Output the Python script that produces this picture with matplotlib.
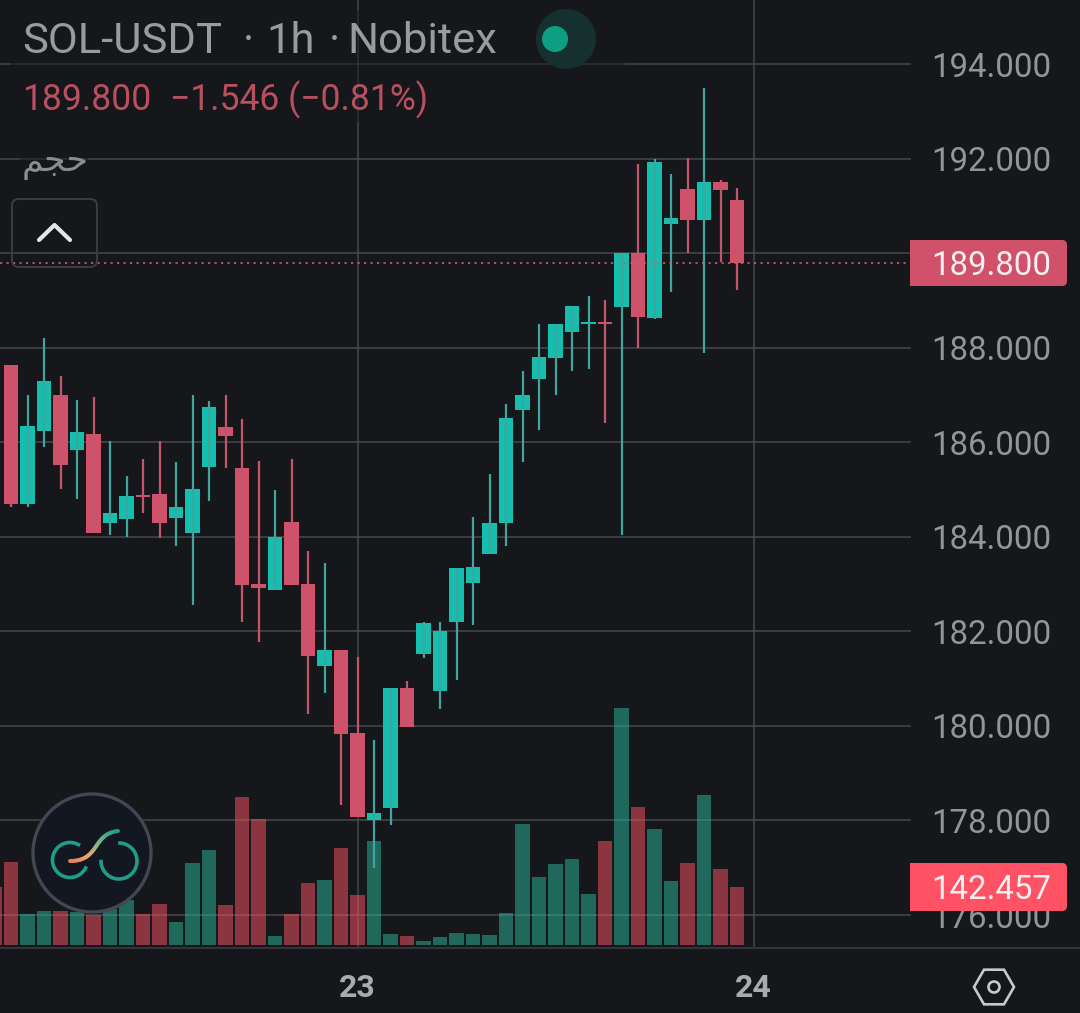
import numpy as np
import matplotlib
matplotlib.use("Agg")
import matplotlib.pyplot as plt
from matplotlib.collections import LineCollection
from matplotlib.patches import Circle, FancyBboxPatch, Rectangle, RegularPolygon

plt.rcParams['font.family'] = ['Roboto', 'DejaVu Sans']

# candles, index 21 is the "23" tick and index 45 the "24" tick
opens = [187.63, 184.69, 186.24, 187.00, 185.84, 186.17, 184.29, 184.38, 184.88, 184.91,
         184.40, 184.08, 185.48, 186.32, 185.46, 183.00, 182.88, 184.31, 183.00, 181.27,
         181.61, 179.85, 178.01, 178.26, 180.80, 181.52, 180.74, 182.20, 183.02, 183.64,
         184.29, 186.68, 187.34, 187.78, 188.33, 188.50, 188.54, 188.86, 190.00, 188.63,
         190.62, 191.36, 190.70, 191.50, 191.12]
closes = [184.69, 186.34, 187.30, 185.52, 186.22, 184.08, 184.50, 184.86, 184.85, 184.29,
          184.63, 185.01, 186.75, 186.13, 182.98, 182.92, 184.00, 182.98, 181.48, 181.61,
          179.83, 178.07, 178.16, 180.80, 179.98, 182.18, 182.01, 183.34, 183.36, 184.29,
          186.51, 187.00, 187.80, 188.50, 188.88, 188.54, 188.50, 190.00, 188.65, 191.93,
          190.74, 190.70, 191.50, 191.33, 189.80]
highs = [187.63, 187.00, 188.21, 187.40, 186.89, 186.96, 186.03, 185.29, 185.65, 186.03,
         185.58, 187.00, 186.87, 187.00, 186.49, 185.60, 184.99, 185.65, 183.70, 183.45,
         181.61, 181.46, 179.70, 180.80, 180.95, 182.20, 182.20, 183.34, 184.42, 185.33,
         186.81, 187.51, 188.50, 188.50, 188.88, 189.09, 189.01, 190.00, 191.89, 191.99,
         191.67, 192.01, 193.49, 191.55, 191.38]
lows = [184.62, 184.62, 185.91, 185.01, 184.80, 184.08, 184.04, 184.00, 184.50, 183.97,
        183.81, 182.56, 184.76, 185.46, 182.20, 181.78, 182.88, 182.98, 180.25, 180.70,
        178.33, 178.07, 177.00, 177.91, 179.98, 181.44, 180.36, 180.97, 182.13, 183.64,
        183.81, 185.58, 186.26, 187.00, 187.51, 187.55, 186.41, 184.04, 187.99, 188.60,
        189.18, 190.00, 187.89, 189.81, 189.22]
# one more volume bar than candles, the first is cut by the left edge
volumes = [142, 204, 76, 84, 84, 81, 74, 88, 111, 76, 101, 56, 201, 233, 98, 363, 309, 22, 76,
           152, 160, 238, 123, 255, 27, 22, 10, 20, 29, 27, 25, 79, 297, 167, 199, 211, 125,
           255, 582, 339, 285, 157, 201, 368, 187, 142.457]

grid_ticks = [176, 178, 180, 182, 184, 186, 188, 190, 192, 194]
price_labels = ['176.000', '178.000', '180.000', '182.000', '184.000',
                '186.000', '188.000', '', '192.000', '194.000']
day_ticks = [21, 45]
day_labels = ['23', '24']
last_price = 189.800
last_volume = 142.457

BG = '#15171b'
GRID = '#47484c'
UP = '#14bfb0'
UP_WICK = '#3fa59d'
DOWN = '#d1506a'
DOWN_WICK = '#c4566c'
VOL_UP = '#2bb79d'
VOL_DOWN = '#ff5365'

fig = plt.figure(figsize=(10.8, 10.13), dpi=100, facecolor=BG)
rect = [0, 66 / 1013, 911 / 1080, 947 / 1013]

# grid and price scale
ax = fig.add_axes(rect, facecolor=BG)
ax.set_xlim(-0.667, 54.545)
ax.set_ylim(175.324, 195.354)
ax.set_axisbelow(True)

# volume has its own scale
vol = ax.twinx()
vol.set_ylim(-4.9, 2321)
vol.set_yticks([])
vol.patch.set_visible(False)
vol.axis('off')
vol_x = np.arange(len(volumes)) - 1
vol_col = [VOL_DOWN] + [VOL_UP if c >= o else VOL_DOWN for o, c in zip(opens, closes)]
vol.bar(vol_x, volumes, width=0.88, color=vol_col, alpha=0.5, linewidth=0)

# candles
cd = ax.twinx()
cd.set_ylim(ax.get_ylim())
cd.set_yticks([])
cd.patch.set_visible(False)
cd.axis('off')
xs = np.arange(len(opens))
up = np.array(closes) >= np.array(opens)
cd.vlines(xs, lows, highs, colors=[UP_WICK if u else DOWN_WICK for u in up], linewidth=1.6)
cd.bar(xs, np.abs(np.array(closes) - np.array(opens)), bottom=np.minimum(opens, closes),
       width=0.85, color=[UP if u else DOWN for u in up], linewidth=0)
cd.axhline(last_price, color='#d0606f', linewidth=1.2, linestyle=(0, (1.3, 2.6)))

# twinx moves the ticks to the left, so set the right side after it
ax.yaxis.tick_right()
ax.set_yticks(grid_ticks)
ax.set_yticklabels(price_labels, fontsize=23.8, color='#949597')
ax.set_xticks(day_ticks)
ax.set_xticklabels(day_labels, fontsize=23, fontweight='bold', color='#aaabad')
ax.tick_params(axis='y', length=0, pad=14.5)
ax.tick_params(axis='x', length=0, pad=18.5)
ax.grid(True, color=GRID, linewidth=1.1)
for s in ax.spines.values():
    s.set_visible(False)

# the rest of the screen, in pixels
ov = fig.add_axes([0, 0, 1, 1])
ov.set_xlim(0, 1080)
ov.set_ylim(1013, 0)
ov.axis('off')
ov.patch.set_visible(False)

ov.plot([0, 1080], [947.5, 947.5], color='#33353a', linewidth=1.4)
ov.add_patch(Rectangle((10, 10), 615, 112, facecolor=BG, alpha=0.5, linewidth=0))
ov.add_patch(Rectangle((20, 148), 68, 32, facecolor=BG, alpha=0.5, linewidth=0))

# header
GREY = '#9a9b9d'
ov.text(22.5, 53, 'SOL-USDT', fontsize=31.3, color=GREY, va='baseline')
ov.text(248, 53, '·', fontsize=31, color=GREY, va='baseline', ha='center')
ov.text(266, 53, '1h', fontsize=31.3, color=GREY, va='baseline')
ov.text(335, 53, '·', fontsize=31, color=GREY, va='baseline', ha='center')
ov.text(347, 53, 'Nobitex', fontsize=31.3, color=GREY, va='baseline')
ov.text(22, 110, '189.800', fontsize=25.6, color='#b8505f', va='baseline')
ov.text(170, 110, '\u22121.546 (\u22120.81%)', fontsize=25.6, color='#b8505f', va='baseline')
ov.text(22, 171, '\ufee2\ufea0\ufea3', fontsize=25, color='#8b8c8e', va='baseline',
        family=['DejaVu Sans'])
ov.add_patch(Circle((566, 39), 30, facecolor='#16302f', linewidth=0))
ov.add_patch(Circle((555, 39), 13, facecolor='#0e9f82', linewidth=0))

# collapse button
ov.add_patch(FancyBboxPatch((12, 199), 85, 68, boxstyle='round,pad=0,rounding_size=7',
                            facecolor='none', edgecolor='#3b3d42', linewidth=1.4))
ov.plot([39, 54.5, 70], [240, 225, 240], color='#e4e5e7', linewidth=3, solid_capstyle='round')

# price tags
for y0, y1, c, txt in [(240, 286, '#d1506a', '%.3f' % last_price),
                       (863, 911, '#ff5365', '%.3f' % last_volume)]:
    ov.add_patch(FancyBboxPatch((910, y0), 157, y1 - y0, boxstyle='round,pad=0,rounding_size=5',
                                facecolor=c, linewidth=0))
    ov.add_patch(Rectangle((910, y0), 10, y1 - y0, facecolor=c, linewidth=0))
    ov.text(931.5, (y0 + y1) / 2 - 1, txt, fontsize=23.8, color='#f6f0f1', va='center_baseline')

# logo
ov.add_patch(Circle((92, 853), 59, facecolor='#121722', edgecolor='#444651', linewidth=2.4))
t = np.radians(np.linspace(61, 333, 60))
ov.plot(70 + 17.5 * np.cos(t), 860 - 17.5 * np.sin(t), color='#1f9d88', linewidth=2.6)
t = np.radians(np.linspace(87, -178, 60))
ov.plot(119 + 18 * np.cos(t), 861 - 18 * np.sin(t), color='#1f9d88', linewidth=2.6)
s = np.linspace(0, 1, 30)[:, None]
p0, p1, p2, p3 = [np.array(p) for p in [(70, 861), (100, 861), (92, 834), (118, 831)]]
curve = (1 - s) ** 3 * p0 + 3 * (1 - s) ** 2 * s * p1 + 3 * (1 - s) * s ** 2 * p2 + s ** 3 * p3
segs = np.stack([curve[:-1], curve[1:]], axis=1)
cmap = matplotlib.colors.LinearSegmentedColormap.from_list(
    'logo', ['#f0805f', '#e8a868', '#6fb58a', '#2a9d86'])
ov.add_collection(LineCollection(segs, colors=cmap(np.linspace(0, 1, len(segs))),
                                 linewidth=2.8, capstyle='round'))

# settings icon
ov.add_patch(RegularPolygon((994, 987), 6, radius=20, orientation=np.pi / 2,
                            facecolor='none', edgecolor='#c8c9cb', linewidth=1.9))
ov.add_patch(Circle((994, 987), 5.5, facecolor='none', edgecolor='#c8c9cb', linewidth=1.9))

fig.savefig('out.png', dpi=100, facecolor=BG)
